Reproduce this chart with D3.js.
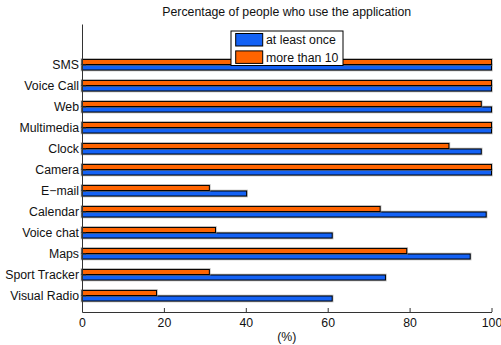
<!DOCTYPE html>
<html>
<head>
<meta charset="utf-8">
<script src="https://cdn.jsdelivr.net/npm/d3@7"></script>
<style>
  html, body { margin: 0; padding: 0; background: #fff; }
  svg { display: block; font-family: "Liberation Sans", Arial, Helvetica, sans-serif; }
</style>
</head>
<body>
<svg id="chart" width="501" height="345"></svg>
<script>
// Applications, listed top to bottom
const categories = ["SMS", "Voice Call", "Web", "Multimedia", "Clock", "Camera",
  "E\u2212mail", "Calendar", "Voice chat", "Maps", "Sport Tracker", "Visual Radio"];
// Percentage of people who used each application at least once
const atLeastOnce = [100, 100, 100, 100, 97.5, 100, 40.2, 98.7, 61.1, 94.8, 74.1, 61.1];
// Percentage of people who used each application more than 10 times
const moreThan10 = [100, 100, 97.5, 100, 89.6, 100, 31.1, 72.8, 32.6, 79.3, 31.1, 18.2];
const seriesNames = ["at least once", "more than 10"];
const seriesColors = ["#1462f5", "#ff6400"];
const xTicks = [0, 20, 40, 60, 80, 100];
const titleText = "Percentage of people who use the application";
const xLabel = "(%)";

(function draw() {
  const svg = d3.select("#chart");
  const plotLeft = 82, plotRight = 491.5, plotTop = 24, plotBottom = 312;
  const FONT = 12.3;

  const x = d3.scaleLinear().domain([0, 100]).range([plotLeft, plotRight]);
  const y = d3.scaleBand().domain(categories).range([plotTop, plotBottom])
    .paddingInner(0).paddingOuter(0.857).align(0.847);
  const step = y.step();
  const barH = step * 0.24;
  const center = c => y(c) + y.bandwidth() / 2;

  // Bars: "more than 10" sits above the category centre, "at least once" below
  const series = [
    { name: seriesNames[0], values: atLeastOnce, color: seriesColors[0], offset: 0 },
    { name: seriesNames[1], values: moreThan10, color: seriesColors[1], offset: -barH - 0.5 }
  ];

  const bars = svg.append("g");
  series.forEach(s => {
    const rows = categories.map((c, i) => ({ c, v: s.values[i] }));
    // soft grey fringe around each bar
    bars.append("g").selectAll("rect").data(rows).join("rect")
      .attr("x", plotLeft).attr("y", d => center(d.c) + s.offset)
      .attr("width", d => x(d.v) - plotLeft).attr("height", barH)
      .attr("fill", "none").attr("stroke", "#888").attr("stroke-opacity", 0.55)
      .attr("stroke-width", 2.6);
    bars.append("g").selectAll("rect").data(rows).join("rect")
      .attr("x", plotLeft).attr("y", d => center(d.c) + s.offset)
      .attr("width", d => x(d.v) - plotLeft).attr("height", barH)
      .attr("fill", s.color).attr("stroke", "#000").attr("stroke-width", 1);
  });

  // Axes
  const xAxis = svg.append("g").attr("transform", `translate(0,${plotBottom})`)
    .call(d3.axisBottom(x).tickValues(xTicks).tickSizeInner(-4).tickSizeOuter(0).tickPadding(6));
  const yAxis = svg.append("g").attr("transform", `translate(${plotLeft},0)`)
    .call(d3.axisLeft(y).tickSizeInner(-4).tickSizeOuter(0).tickPadding(3));
  [xAxis, yAxis].forEach(a => {
    a.selectAll("path.domain").attr("stroke", "#333").attr("stroke-width", 1);
    a.selectAll(".tick line").attr("stroke", "#333");
    a.selectAll(".tick text").attr("fill", "#111").style("font-size", FONT + "px")
      .style("font-family", "'Liberation Sans', Arial, sans-serif");
  });

  // Title and axis label
  svg.append("text").attr("x", (plotLeft + plotRight) / 2).attr("y", 16)
    .attr("text-anchor", "middle").attr("fill", "#111").style("font-size", FONT + "px")
    .text(titleText);
  svg.append("text").attr("x", (plotLeft + plotRight) / 2).attr("y", 341)
    .attr("text-anchor", "middle").attr("fill", "#111").style("font-size", FONT + "px")
    .text(xLabel);

  // Legend
  const lg = svg.append("g").attr("transform", "translate(231,31)");
  lg.append("rect").attr("width", 112).attr("height", 34.5)
    .attr("fill", "#fff").attr("stroke", "#000").attr("stroke-width", 1);
  seriesNames.forEach((name, i) => {
    const gy = 2.5 + i * 17.4;
    lg.append("rect").attr("x", 4.7).attr("y", gy).attr("width", 27).attr("height", 12.5)
      .attr("fill", seriesColors[i]).attr("stroke", "#000").attr("stroke-width", 1);
    lg.append("text").attr("x", 35).attr("y", gy + 10.8).attr("fill", "#111")
      .style("font-size", FONT + "px").text(name);
  });
})();
</script>
</body>
</html>
